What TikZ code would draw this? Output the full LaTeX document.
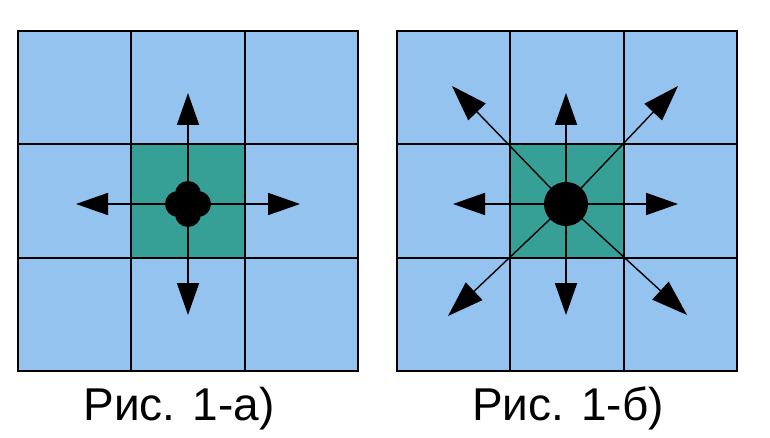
\documentclass[tikz,border=0pt]{standalone}
\usepackage{fontspec}
\setmainfont{Liberation Sans}
\usetikzlibrary{arrows.meta,backgrounds,positioning}
\definecolor{cellblue}{RGB}{148,195,240}
\definecolor{cellteal}{RGB}{54,160,150}
\pgfdeclarelayer{edgelayer}
\pgfdeclarelayer{nodelayer}
\pgfsetlayers{background,edgelayer,nodelayer,main}
\tikzstyle{none}=[inner sep=0mm]
\tikzstyle{cell}=[draw=black,line width=2pt,fill=cellblue]
\tikzstyle{centre cell}=[cell,fill=cellteal]
\tikzstyle{ray}=[line width=1.8pt,-{Triangle[length=32pt,width=22pt]}]
\tikzstyle{diag ray}=[ray,line width=1.4pt,-{Triangle[length=36pt,width=24pt]}]
\tikzstyle{caption}=[inner sep=0mm,anchor=base,font=\fontsize{46}{46}\selectfont]

\begin{document}
\begin{tikzpicture}[x=1pt,y=-1pt]
	\useasboundingbox (0,0) rectangle (770,438);
	\begin{pgfonlayer}{background}
		\fill[white] (0,0) rectangle (770,438);
		\foreach \gx in {18,397} {
			\foreach \i in {0,1,2}
				\foreach \j in {0,1,2}
					\draw[cell] ({\gx+\i*113.33},{31+\j*113.33}) rectangle ++(113.33,113.33);
			\draw[centre cell] ({\gx+113.33},144.33) rectangle ++(113.33,113.33);
		}
	\end{pgfonlayer}
	\begin{pgfonlayer}{nodelayer}
		% figure a
		\node [style=none] (ca) at (188, 204) {};
		\node [style=none] (ca n) at (188, 93) {};
		\node [style=none] (ca s) at (188, 315) {};
		\node [style=none] (ca w) at (76, 204) {};
		\node [style=none] (ca e) at (300, 204) {};
		% figure b
		\node [style=none] (cb) at (566, 204) {};
		\node [style=none] (cb n) at (566, 93) {};
		\node [style=none] (cb s) at (566, 315) {};
		\node [style=none] (cb w) at (453, 204) {};
		\node [style=none] (cb e) at (678, 204) {};
		\node [style=none] (cb nw) at (452, 86) {};
		\node [style=none] (cb ne) at (678, 86) {};
		\node [style=none] (cb sw) at (448, 316) {};
		\node [style=none] (cb se) at (687, 315) {};
		% captions
		\node [style=caption] (capa) at (179, 420) {Рис. 1-а)};
		\node [style=caption] (capb) at (568, 420) {Рис. 1-б)};
	\end{pgfonlayer}
	\begin{pgfonlayer}{edgelayer}
		\foreach \d in {n,s,w,e}
			\draw[ray] (ca.center) to (ca \d.center);
		\foreach \d in {n,s,w,e}
			\draw[ray] (cb.center) to (cb \d.center);
		\foreach \d in {nw,ne,sw,se}
			\draw[diag ray] (cb.center) to (cb \d.center);
	\end{pgfonlayer}
	% particles
	\foreach \dx/\dy in {-10/0,10/0,0/-10,0/10}
		\fill ([xshift=\dx pt,yshift=\dy pt]ca.center) circle (13);
	\fill (cb.center) circle (22);
\end{tikzpicture}
\end{document}
